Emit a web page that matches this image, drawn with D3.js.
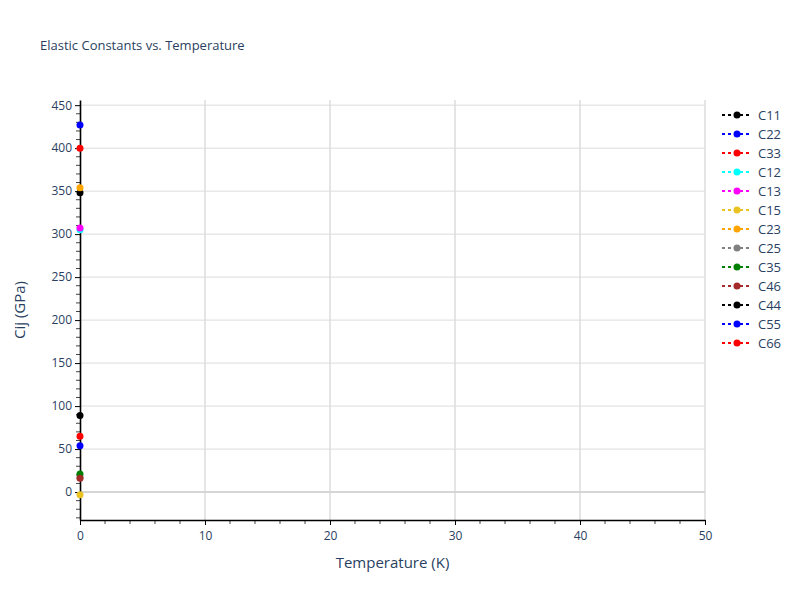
<!DOCTYPE html>
<meta charset="utf-8">
<title>Elastic Constants vs. Temperature</title>
<style>
  body { margin: 0; background: #fff; }
  text { font-family: "Open Sans", "DejaVu Sans", sans-serif; }
</style>
<body>
<script src="https://d3js.org/d3.v7.min.js"></script>
<script>

var width = 800,
    height = 600,
    margin = {top: 100, right: 95, bottom: 80, left: 80};

// elastic constants, one point each at T = 0 K
var names = ["C11", "C22", "C33", "C12", "C13", "C15", "C23", "C25", "C35", "C46", "C44", "C55", "C66"];
var temperature = [0];
var values = [348, 427, 400, 305, 307, -3, 354, 17, 21, 16, 89, 54, 65];
var colors = ["black", "blue", "red", "cyan", "magenta", "#e8c322", "orange", "gray", "green", "brown", "black", "blue", "red"];
var xTicks = [0, 10, 20, 30, 40, 50];
var yTicks = [0, 50, 100, 150, 200, 250, 300, 350, 400, 450];

var series = names.map(function(n, i) {
  return {name: n, color: colors[i], points: temperature.map(function(t) { return {t: t, v: values[i]}; })};
});

var x = d3.scaleLinear().domain([0, 50]).range([margin.left, width - margin.right]);
var y = d3.scaleLinear().domain([-32.5, 456]).range([height - margin.bottom, margin.top]);

var svg = d3.select("body").append("svg")
    .attr("width", width)
    .attr("height", height);

var textColor = "#2a3f5f";

// grid
svg.append("g").selectAll("line")
    .data(xTicks.slice(1))
    .enter().append("line")
    .attr("x1", d => x(d)).attr("x2", d => x(d))
    .attr("y1", margin.top).attr("y2", height - margin.bottom)
    .attr("stroke", "#e5e5e5").attr("stroke-width", 2);

svg.append("g").selectAll("line")
    .data(yTicks.filter(d => d != 0))
    .enter().append("line")
    .attr("x1", margin.left).attr("x2", width - margin.right)
    .attr("y1", d => y(d)).attr("y2", d => y(d))
    .attr("stroke", "#dcdcdc").attr("stroke-width", 1);

// zero line
svg.append("line")
    .attr("x1", margin.left).attr("x2", width - margin.right)
    .attr("y1", y(0)).attr("y2", y(0))
    .attr("stroke", "#d5d5d5").attr("stroke-width", 2);

// minor ticks
var xMinor = d3.range(0, 50.1, 2).filter(d => d % 10 != 0);
svg.append("g").selectAll("line")
    .data(xMinor).enter().append("line")
    .attr("x1", d => x(d)).attr("x2", d => x(d))
    .attr("y1", height - margin.bottom).attr("y2", height - margin.bottom + 4)
    .attr("stroke", "#444").attr("stroke-width", 1);

var yMinor = d3.range(-30, 456, 10).filter(d => d % 50 != 0);
svg.append("g").selectAll("line")
    .data(yMinor).enter().append("line")
    .attr("x1", margin.left - 4).attr("x2", margin.left)
    .attr("y1", d => y(d)).attr("y2", d => y(d))
    .attr("stroke", "#444").attr("stroke-width", 1);

// axes
var xAxis = svg.append("g")
    .attr("transform", "translate(0," + (height - margin.bottom) + ")")
    .call(d3.axisBottom(x).tickValues(xTicks).tickSize(5).tickPadding(6).tickSizeOuter(0));
var yAxis = svg.append("g")
    .attr("transform", "translate(" + margin.left + ",0)")
    .call(d3.axisLeft(y).tickValues(yTicks).tickSize(5).tickPadding(3).tickSizeOuter(0));

[xAxis, yAxis].forEach(function(a) {
  a.select(".domain").attr("stroke", "#000").attr("stroke-width", 1.6);
  a.selectAll(".tick line").attr("stroke", "#000");
  a.selectAll(".tick text").attr("fill", textColor).style("font-size", "12px")
      .style("font-family", "'Open Sans', sans-serif");
});

// lines and points
var line = d3.line().x(d => x(d.t)).y(d => y(d.v));

var g = svg.selectAll("g.series")
    .data(series)
    .enter().append("g")
    .attr("class", "series");

g.append("path")
    .attr("d", d => line(d.points))
    .attr("fill", "none")
    .attr("stroke", d => d.color)
    .attr("stroke-width", 2)
    .attr("stroke-dasharray", "3,3");

g.selectAll("circle")
    .data(d => d.points.map(p => ({t: p.t, v: p.v, color: d.color})))
    .enter().append("circle")
    .attr("cx", d => x(d.t))
    .attr("cy", d => y(d.v))
    .attr("r", 3.5)
    .attr("fill", d => d.color);

// titles
svg.append("text")
    .attr("x", 40).attr("y", 50)
    .attr("fill", textColor)
    .style("font-size", "13px")
    .text("Elastic Constants vs. Temperature");

svg.append("text")
    .attr("x", (margin.left + width - margin.right) / 2)
    .attr("y", 568)
    .attr("text-anchor", "middle")
    .attr("fill", textColor)
    .style("font-size", "15px")
    .text("Temperature (K)");

svg.append("text")
    .attr("transform", "translate(25," + (margin.top + (height - margin.bottom - margin.top) / 2) + ") rotate(-90)")
    .attr("text-anchor", "middle")
    .attr("fill", textColor)
    .style("font-size", "15px")
    .text("Cij (GPa)");

// legend
var legend = svg.append("g").attr("transform", "translate(722,115)");
var item = legend.selectAll("g")
    .data(series)
    .enter().append("g")
    .attr("transform", (d, i) => "translate(0," + i * 19 + ")");

item.append("line")
    .attr("x1", 0).attr("x2", 30)
    .attr("stroke", d => d.color)
    .attr("stroke-width", 2)
    .attr("stroke-dasharray", "3,3");
item.append("circle")
    .attr("cx", 15).attr("r", 3.5)
    .attr("fill", d => d.color);
item.append("text")
    .attr("x", 36).attr("y", 4.5)
    .attr("fill", textColor)
    .style("font-size", "13px")
    .text(d => d.name);

</script>
